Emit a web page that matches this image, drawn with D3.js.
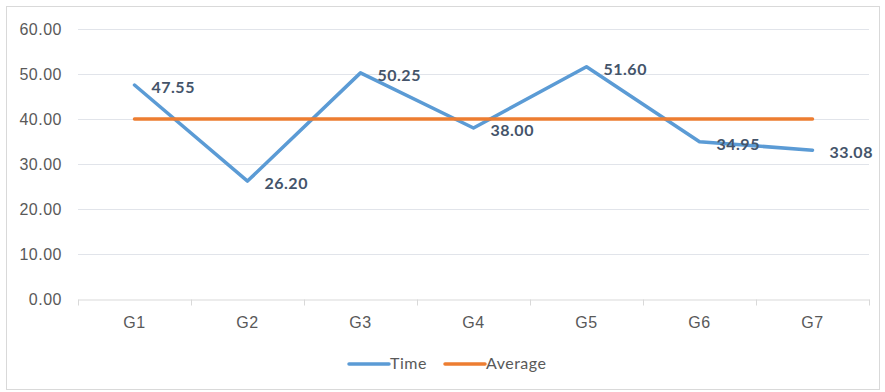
<!DOCTYPE html>
<html>
<head>
<meta charset="utf-8">
<script src="https://cdn.jsdelivr.net/npm/d3@7"></script>
<style>
  body { margin: 0; background: #fff; }
  svg { display: block; font-family: Lato, "Open Sans", sans-serif; }
</style>
</head>
<body>
<svg id="chart" width="885" height="392"></svg>
<script>
// --- data ---
const categories = ['G1', 'G2', 'G3', 'G4', 'G5', 'G6', 'G7'];
const timeValues = [47.55, 26.20, 50.25, 38.00, 51.60, 34.95, 33.08];
const averageValues = [40, 40, 40, 40, 40, 40, 40];
const yTicks = [0, 10, 20, 30, 40, 50, 60];
const seriesNames = ['Time', 'Average'];
const seriesColors = ['#5b9bd5', '#ed7d31'];

const svg = d3.select('#chart');
const margin = { top: 29, right: 16, bottom: 93, left: 78 };
const width = 885 - margin.left - margin.right;
const height = 392 - margin.top - margin.bottom;

// chart border
svg.append('rect')
    .attr('x', 6.5).attr('y', 6.5)
    .attr('width', 873).attr('height', 383)
    .attr('fill', '#fff')
    .attr('stroke', '#d9d9d9');

const g = svg.append('g')
    .attr('transform', `translate(${margin.left},${margin.top})`);

const x = d3.scaleBand().domain(categories).range([0, width]);
const y = d3.scaleLinear().domain([0, 60]).range([height, 0]);

// gridlines
g.append('g')
    .selectAll('line')
    .data(yTicks.filter(d => d > 0))
    .enter().append('line')
    .attr('x1', 0).attr('x2', width)
    .attr('y1', d => y(d) + 0.5).attr('y2', d => y(d) + 0.5)
    .attr('stroke', '#e1e4ea');

// y axis labels
const yAxis = g.append('g')
    .call(d3.axisLeft(y).tickValues(yTicks).tickFormat(d3.format('.2f')).tickSize(0).tickPadding(16));
yAxis.select('.domain').remove();
yAxis.selectAll('text')
    .attr('fill', '#595959')
    .style('font-size', '16px')
    .style('letter-spacing', '0.5px');

// x axis
const xAxis = g.append('g')
    .attr('transform', `translate(0,${height + 0.5})`)
    .call(d3.axisBottom(x).tickSize(0).tickPadding(17));
xAxis.select('.domain').attr('stroke', '#d9d9d9');
xAxis.selectAll('text')
    .attr('fill', '#595959')
    .style('font-size', '16px')
    .style('letter-spacing', '0.5px');
// tick marks at band edges
xAxis.append('g')
    .selectAll('line')
    .data(categories.map((c, i) => i).concat([categories.length]))
    .enter().append('line')
    .attr('x1', i => Math.round(i * x.bandwidth()) + 0.5)
    .attr('x2', i => Math.round(i * x.bandwidth()) + 0.5)
    .attr('y1', 0).attr('y2', 6)
    .attr('stroke', '#d9d9d9');

const cx = c => x(c) + x.bandwidth() / 2;
const line = d3.line()
    .x((d, i) => cx(categories[i]))
    .y(d => y(d));

// lines
g.append('path')
    .datum(timeValues)
    .attr('d', line)
    .attr('fill', 'none')
    .attr('stroke', seriesColors[0])
    .attr('stroke-width', 3.5)
    .attr('stroke-linejoin', 'round')
    .attr('stroke-linecap', 'round');

g.append('path')
    .datum(averageValues)
    .attr('d', line)
    .attr('fill', 'none')
    .attr('stroke', seriesColors[1])
    .attr('stroke-width', 3.5)
    .attr('stroke-linecap', 'round');

// data labels
g.append('g')
    .selectAll('text')
    .data(timeValues)
    .enter().append('text')
    .attr('x', (d, i) => cx(categories[i]) + 17)
    .attr('y', d => y(d) + 8)
    .attr('fill', '#44546a')
    .style('font-size', '16px')
    .style('font-weight', 'bold')
    .style('letter-spacing', '0.5px')
    .text(d => d3.format('.2f')(d));

// legend
const legend = svg.append('g');
const legendX = [349, 445];
seriesNames.forEach((name, i) => {
    legend.append('line')
        .attr('x1', legendX[i]).attr('x2', legendX[i] + 40)
        .attr('y1', 364).attr('y2', 364)
        .attr('stroke', seriesColors[i])
        .attr('stroke-width', 3.5)
        .attr('stroke-linecap', 'round');
    legend.append('text')
        .attr('x', legendX[i] + 41)
        .attr('y', 369)
        .attr('fill', '#595959')
        .style('font-size', '16px')
        .style('letter-spacing', '0.5px')
        .text(name);
});
</script>
</body>
</html>
